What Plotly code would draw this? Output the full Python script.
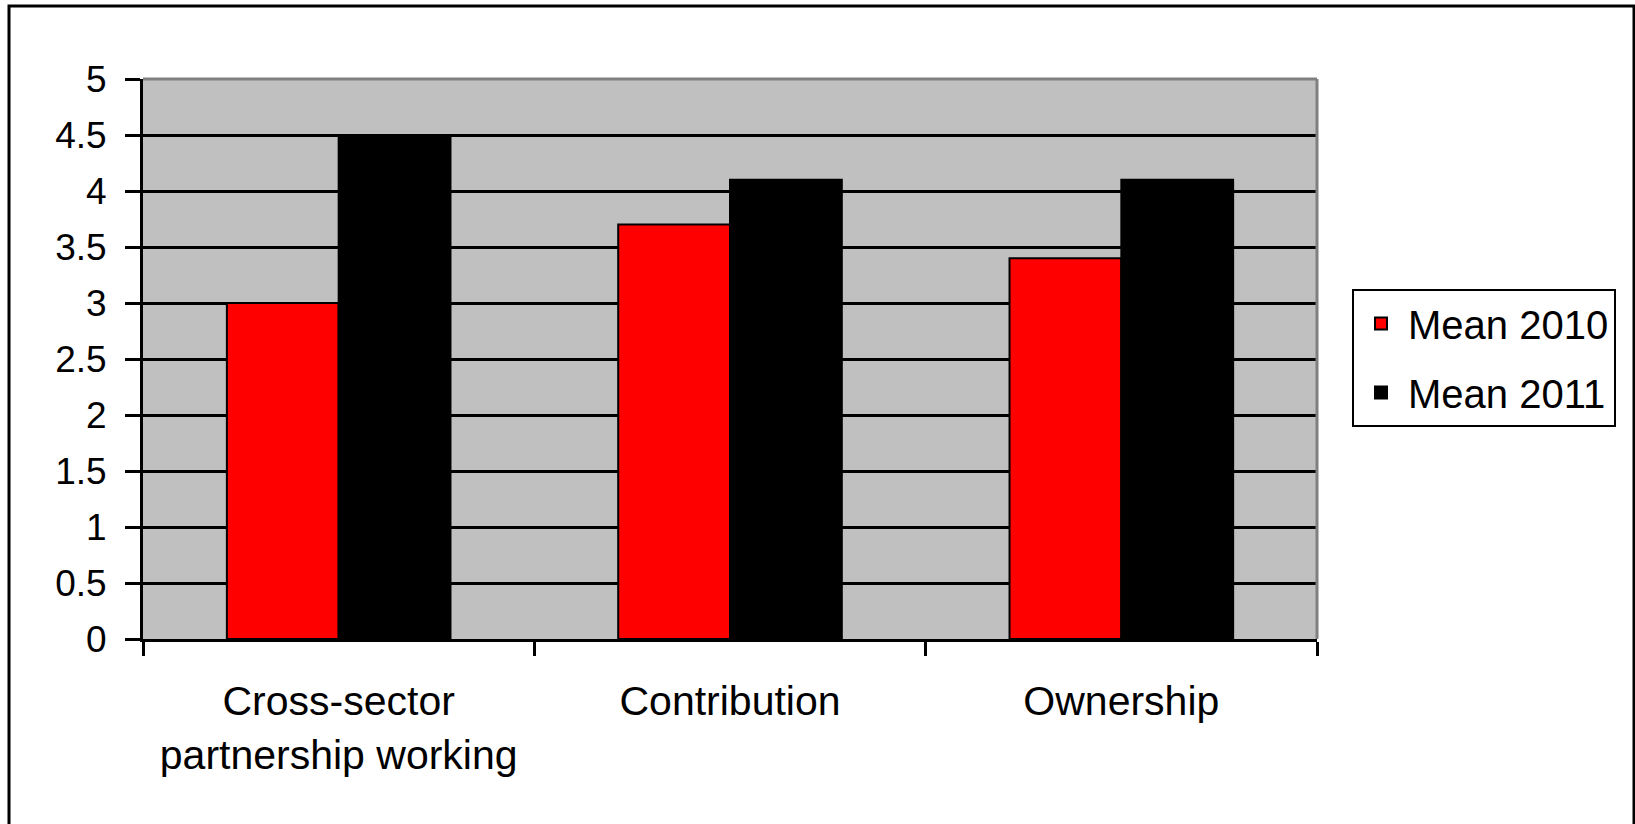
import plotly.graph_objects as go

# Survey means by theme
categories = ["Cross-sector<br>partnership working", "Contribution", "Ownership"]
mean_2010 = [3.0, 3.7, 3.4]
mean_2011 = [4.5, 4.1, 4.1]
series_names = ["Mean 2010", "Mean 2011"]
y_ticks = [0, 0.5, 1, 1.5, 2, 2.5, 3, 3.5, 4, 4.5, 5]
y_tick_text = ["0", "0.5", "1", "1.5", "2", "2.5", "3", "3.5", "4", "4.5", "5"]

W, H = 1635, 824
ML, MR, MT, MB = 143, 318, 79, 185
PW = W - ML - MR
PH = H - MT - MB

FONT = "Liberation Sans, Arial, sans-serif"

fig = go.Figure()
fig.add_trace(go.Bar(
    x=categories, y=mean_2010, name=series_names[0], legendgroup="a",
    marker=dict(color="#FF0000", line=dict(color="black", width=2)),
))
fig.add_trace(go.Bar(
    x=categories, y=mean_2011, name=series_names[1], legendgroup="b",
    marker=dict(color="#000000", line=dict(color="black", width=2)),
))


def px_x(p):
    return (p - ML) / PW


def px_y(p):
    return (H - MB - p) / PH


shapes = [
    # outer chart frame
    dict(type="rect", xref="paper", yref="paper",
         x0=px_x(9), x1=px_x(1634), y0=px_y(840), y1=px_y(6),
         line=dict(color="black", width=3), fillcolor="rgba(0,0,0,0)", layer="above"),
    # grey plot-area edges (top and right)
    dict(type="line", xref="paper", yref="paper", x0=0, x1=1, y0=1, y1=1,
         line=dict(color="#808080", width=3), layer="above"),
    dict(type="line", xref="paper", yref="paper", x0=1, x1=1, y0=0, y1=1,
         line=dict(color="#808080", width=3), layer="above"),
]

fig.update_layout(
    width=W, height=H,
    margin=dict(l=ML, r=MR, t=MT, b=MB, pad=0),
    paper_bgcolor="white",
    plot_bgcolor="#C0C0C0",
    barmode="group",
    bargap=1.5 / 3.5,
    bargroupgap=0,
    font=dict(family=FONT, color="black", size=37),
    showlegend=True,
    legend=dict(
        x=px_x(1352), y=px_y(289), xanchor="left", yanchor="top",
        bgcolor="white", bordercolor="black", borderwidth=2,
        font=dict(family=FONT, size=40, color="black"),
        traceorder="grouped", tracegroupgap=14,
        itemwidth=44,
    ),
    shapes=shapes,
    xaxis=dict(
        type="category",
        showline=True, linecolor="black", linewidth=3,
        ticks="outside", tickson="boundaries", ticklen=14, tickwidth=3, tickcolor="black",
        tickfont=dict(family=FONT, size=41, color="black"),
        showgrid=False,
        ticklabelstandoff=24,
    ),
    yaxis=dict(
        range=[0, 5],
        tickvals=y_ticks, ticktext=y_tick_text,
        showline=True, linecolor="black", linewidth=3,
        ticks="outside", ticklen=15, tickwidth=3, tickcolor="black",
        tickfont=dict(family=FONT, size=37, color="black"),
        showgrid=True, gridcolor="black", gridwidth=3,
        zeroline=False,
        ticklabelstandoff=11,
    ),
)

fig.write_html("out.html")
